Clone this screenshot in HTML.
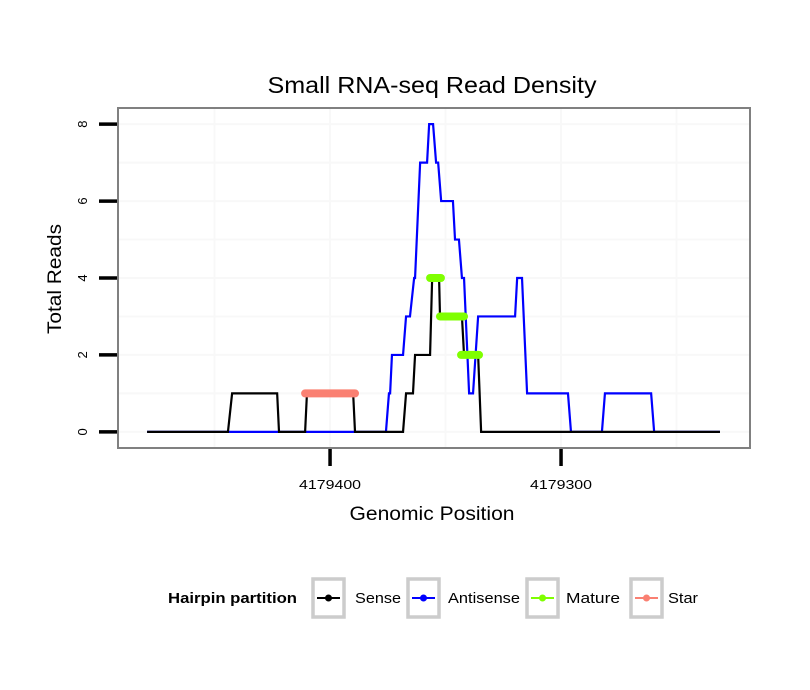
<!DOCTYPE html>
<html><head><meta charset="utf-8"><style>
body{margin:0;background:#fff;}
svg{display:block;font-family:"Liberation Sans",sans-serif;}
</style></head><body>
<svg id="c" width="810" height="690">
<text x="432" y="93" font-size="23" text-anchor="middle" textLength="329" lengthAdjust="spacingAndGlyphs">Small RNA-seq Read Density</text>
<rect x="118" y="108" width="632" height="340" fill="#fff"/>
<g id="grid"></g>
<g id="series"></g>
<rect x="118" y="108" width="632" height="340" fill="none" stroke="#808080" stroke-width="2"/>
<g id="axes"></g>
<text x="432" y="520" font-size="19" text-anchor="middle" textLength="165" lengthAdjust="spacingAndGlyphs">Genomic Position</text>
<text transform="translate(61,279) rotate(-90)" font-size="19" text-anchor="middle" textLength="110" lengthAdjust="spacingAndGlyphs">Total Reads</text>
<g>
<text x="168" y="603" font-size="15" font-weight="bold" textLength="129" lengthAdjust="spacingAndGlyphs">Hairpin partition</text>
<g id="legend"></g>
</g>
</svg>
<script>
const xTicks=[4179400,4179300];
const xTickLabels=["4179400","4179300"];
const yTicks=[0,2,4,6,8];
const senseX=[4179479.2,4179444.2,4179442.4,4179422.9,4179422.1,4179410.8,4179410.0,4179390.0,4179389.2,4179368.4,4179367.1,4179364.1,4179363.2,4179356.7,4179355.8,4179352.8,4179352.4,4179342.9,4179342.0,4179335.9,4179334.6,4179231.2];
const senseY=[0,0,1,1,0,0,1,1,0,0,1,1,2,2,4,4,3,3,2,2,0,0];
const antiX=[4179479.2,4179375.8,4179374.5,4179374.0,4179373.2,4179368.4,4179367.1,4179365.4,4179363.6,4179363.2,4179361.0,4179358.0,4179357.1,4179355.4,4179354.1,4179353.2,4179351.9,4179346.8,4179345.9,4179344.2,4179342.9,4179342.0,4179339.8,4179338.1,4179335.9,4179319.9,4179319.0,4179316.9,4179314.7,4179297.0,4179295.7,4179282.3,4179281.0,4179261.0,4179259.7,4179231.2];
const antiY=[0,0,1,1,2,2,3,3,4,4,7,7,8,8,7,7,6,6,5,5,4,4,1,1,3,3,4,4,1,1,0,0,1,1,0,0];
const matureStart=[4179356.7,4179352.4,4179343.3];
const matureEnd=[4179352.0,4179342.0,4179335.5];
const matureY=[4,3,2];
const starStart=[4179410.8];
const starEnd=[4179389.2];
const starY=[1];
const legendLabels=["Sense","Antisense","Mature","Star"];
const legendColors=["#000000","#0000ff","#7fff00","#fa8072"];

const NS="http://www.w3.org/2000/svg";
const X0=118,X1=750,Y0=448,Y1=108;
const xd0=4179491.8,xd1=4179218.2,yd0=-0.42,yd1=8.42;
function sx(v){return X0+(v-xd0)/(xd1-xd0)*(X1-X0);}
function sy(v){return Y0+(v-yd0)/(yd1-yd0)*(Y1-Y0);}
function mk(tag,attrs,parent){const e=document.createElementNS(NS,tag);for(const k in attrs)e.setAttribute(k,attrs[k]);parent.appendChild(e);return e;}
const grid=document.getElementById('grid'),series=document.getElementById('series'),axes=document.getElementById('axes'),leg=document.getElementById('legend');
[4179450,4179400,4179350,4179300,4179250].forEach(v=>{
 const l=mk('line',{x1:sx(v),x2:sx(v),y1:Y1,y2:Y0,stroke:'#f8f8f8','stroke-width':2},grid);
 
 
});
[0,1,2,3,4,5,6,7,8].forEach(v=>{
 const l=mk('line',{x1:X0,x2:X1,y1:sy(v),y2:sy(v),stroke:'#f8f8f8','stroke-width':2},grid);
 
 
});
function poly(xs,ys,color,name){
 const p=mk('polyline',{points:xs.map((x,i)=>sx(x)+','+sy(ys[i])).join(' '),fill:'none',stroke:color,'stroke-width':2.2,'stroke-linejoin':'miter'},series);
 
 
}
poly(antiX,antiY,'#0000ff','antisense-line');
poly(senseX,senseY,'#000000','sense-line');
function segs(s,e,y,color,name){
 s.forEach((v,i)=>{
  const l=mk('line',{x1:sx(v),x2:sx(e[i]),y1:sy(y[i]),y2:sy(y[i]),stroke:color,'stroke-width':8,'stroke-linecap':'round'},series);
  
  
 });
}
segs(matureStart,matureEnd,matureY,'#7fff00','mature-segment');
segs(starStart,starEnd,starY,'#fa8072','star-segment');
yTicks.forEach(v=>{
 const l=mk('line',{x1:99,x2:117,y1:sy(v),y2:sy(v),stroke:'#000','stroke-width':3.5},axes);
 
 
 const t=mk('text',{transform:'translate(87,'+sy(v)+') rotate(-90)','font-size':13,'text-anchor':'middle'},axes);
 t.textContent=v;
 
 
});
xTicks.forEach((v,i)=>{
 const l=mk('line',{x1:sx(v),x2:sx(v),y1:449,y2:466,stroke:'#000','stroke-width':3.5},axes);
 
 
 const t=mk('text',{x:sx(v),y:489,'font-size':13,'text-anchor':'middle',textLength:62,lengthAdjust:'spacingAndGlyphs'},axes);
 t.textContent=xTickLabels[i];
 
 
});
const bx=[313,408,527,631],tx=[355,448,566,668],tl=[46,72,54,30];
legendLabels.forEach((lab,i)=>{
 const g=mk('g',{},leg);
 
 
 mk('rect',{x:bx[i],y:579,width:31,height:38,fill:'#fff',stroke:'#cccccc','stroke-width':3.5},g);
 mk('line',{x1:bx[i]+4,x2:bx[i]+27,y1:598,y2:598,stroke:legendColors[i],'stroke-width':2},g);
 mk('circle',{cx:bx[i]+15.5,cy:598,r:3.5,fill:legendColors[i]},g);
 const t=mk('text',{x:tx[i],y:603,'font-size':15,textLength:tl[i],lengthAdjust:'spacingAndGlyphs'},g);
 t.textContent=lab;
});
</script>
</body></html>
